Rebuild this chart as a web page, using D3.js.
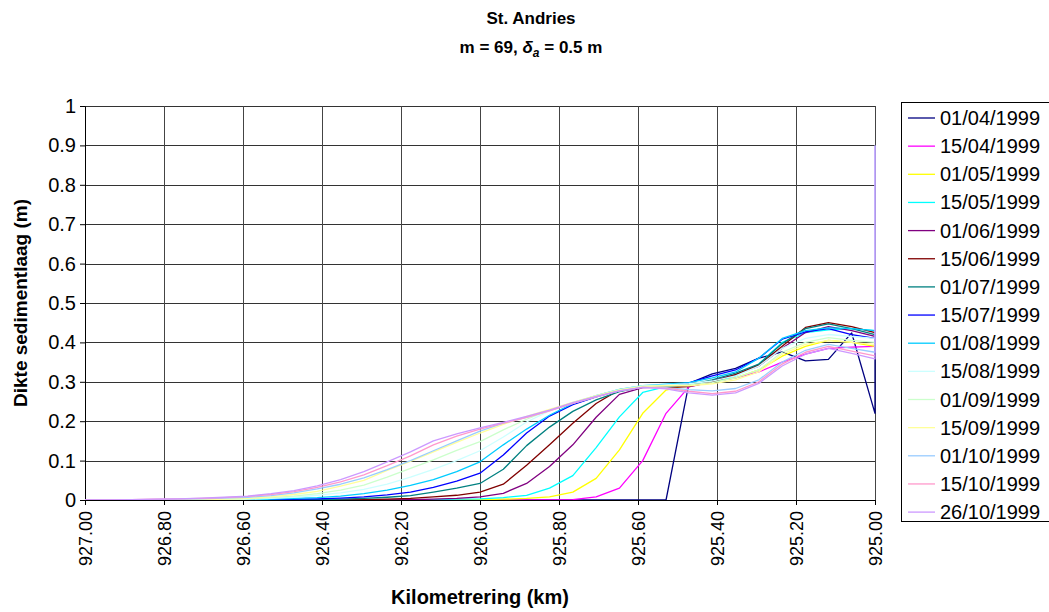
<!DOCTYPE html>
<html>
<head>
<meta charset="utf-8">
<script src="https://cdn.jsdelivr.net/npm/d3@7"></script>
<style>
  body { margin: 0; background: #fff; }
  text { font-family: "Liberation Sans", Arial, sans-serif; }
</style>
</head>
<body>
<div id="chart-area"></div>
<script>
// km positions (last point repeated at 925.00)
var km = [927.000, 926.941, 926.882, 926.824, 926.765, 926.706, 926.647, 926.588, 926.529,
  926.471, 926.412, 926.353, 926.294, 926.235, 926.176, 926.118, 926.059, 926.000,
  925.941, 925.882, 925.824, 925.765, 925.706, 925.647, 925.588, 925.529, 925.471,
  925.412, 925.353, 925.294, 925.235, 925.176, 925.118, 925.059, 925.000, 925.000];

var dates = ["01/04/1999", "15/04/1999", "01/05/1999", "15/05/1999", "01/06/1999",
  "15/06/1999", "01/07/1999", "15/07/1999", "01/08/1999", "15/08/1999",
  "01/09/1999", "15/09/1999", "01/10/1999", "15/10/1999", "26/10/1999"];

var colors = ["#000080", "#ff00ff", "#ffff00", "#00ffff", "#800080",
  "#800000", "#008080", "#0000ff", "#00ccff", "#ccffff",
  "#ccffcc", "#ffff99", "#99ccff", "#ff99cc", "#cc99ff"];

var d0104 = [0, 0, 0, 0, 0, 0, 0, 0, 0, 0, 0, 0, 0, 0, 0, 0, 0, 0, 0, 0, 0, 0, 0, 0, 0, 0,
  0.296, 0.32, 0.334, 0.36, 0.376, 0.353, 0.357, 0.424, 0.22, 0.42];
var d1504 = [0, 0, 0, 0, 0, 0, 0, 0, 0, 0, 0, 0, 0, 0, 0, 0, 0, 0, 0, 0, 0,
  0.001, 0.008, 0.03, 0.1, 0.22, 0.287, 0.3, 0.31, 0.325, 0.35, 0.37, 0.385, 0.388, 0.39, 0.39];
var d0105 = [0, 0, 0, 0, 0, 0, 0, 0, 0, 0, 0, 0, 0, 0, 0, 0, 0,
  0.001, 0.002, 0.004, 0.008, 0.02, 0.055, 0.127, 0.22, 0.279, 0.293, 0.3, 0.31, 0.33, 0.365,
  0.39, 0.405, 0.4, 0.39, 0.39];
var d1505 = [0, 0, 0, 0, 0, 0, 0, 0, 0, 0, 0, 0, 0, 0, 0,
  0.001, 0.002, 0.003, 0.006, 0.012, 0.03, 0.062, 0.133, 0.211, 0.273, 0.288, 0.29, 0.3, 0.315,
  0.345, 0.4, 0.425, 0.432, 0.435, 0.43, 0.43];
var d0106 = [0, 0, 0, 0, 0, 0, 0, 0, 0, 0, 0, 0, 0, 0,
  0.001, 0.002, 0.004, 0.008, 0.017, 0.042, 0.085, 0.14, 0.21, 0.268, 0.285, 0.287, 0.29, 0.303,
  0.318, 0.34, 0.385, 0.425, 0.44, 0.43, 0.415, 0.415];
var d1506 = [0, 0, 0, 0, 0, 0, 0, 0, 0, 0, 0, 0,
  0.001, 0.002, 0.004, 0.008, 0.012, 0.02, 0.04, 0.088, 0.14, 0.195, 0.245, 0.28, 0.288, 0.285,
  0.288, 0.3, 0.318, 0.343, 0.39, 0.438, 0.45, 0.44, 0.425, 0.425];
var d0107 = [0, 0, 0, 0, 0, 0, 0, 0, 0,
  0.001, 0.001, 0.002, 0.004, 0.007, 0.011, 0.02, 0.03, 0.042, 0.078, 0.138, 0.185, 0.225, 0.254,
  0.275, 0.287, 0.288, 0.292, 0.305, 0.322, 0.345, 0.397, 0.435, 0.447, 0.435, 0.42, 0.42];
var d1507 = [0, 0, 0, 0, 0, 0, 0, 0,
  0.001, 0.002, 0.003, 0.005, 0.008, 0.013, 0.02, 0.032, 0.048, 0.068, 0.114, 0.17, 0.213, 0.242,
  0.262, 0.279, 0.288, 0.29, 0.297, 0.315, 0.33, 0.36, 0.408, 0.427, 0.435, 0.42, 0.41, 0.41];
var d0108 = [0, 0, 0, 0, 0, 0, 0, 0,
  0.002, 0.004, 0.006, 0.01, 0.016, 0.025, 0.037, 0.052, 0.072, 0.097, 0.14, 0.18, 0.215, 0.245,
  0.265, 0.281, 0.29, 0.294, 0.298, 0.31, 0.325, 0.36, 0.41, 0.43, 0.437, 0.435, 0.43, 0.43];
var d1508 = [0, 0, 0, 0, 0, 0, 0,
  0.002, 0.004, 0.007, 0.012, 0.018, 0.027, 0.04, 0.058, 0.078, 0.1, 0.125, 0.16, 0.198, 0.226,
  0.248, 0.265, 0.28, 0.29, 0.292, 0.295, 0.302, 0.315, 0.34, 0.385, 0.41, 0.42, 0.415, 0.41, 0.41];
var d0109 = [0, 0, 0, 0, 0, 0,
  0.001, 0.003, 0.006, 0.01, 0.016, 0.025, 0.038, 0.058, 0.08, 0.102, 0.126, 0.148, 0.178, 0.205,
  0.228, 0.248, 0.265, 0.28, 0.289, 0.29, 0.292, 0.298, 0.31, 0.33, 0.375, 0.4, 0.412, 0.405, 0.4, 0.4];
var d1509 = [0, 0, 0, 0, 0,
  0.001, 0.002, 0.004, 0.008, 0.014, 0.022, 0.035, 0.05, 0.075, 0.098, 0.122, 0.146, 0.17, 0.192,
  0.212, 0.23, 0.248, 0.264, 0.279, 0.288, 0.29, 0.29, 0.295, 0.305, 0.325, 0.37, 0.395, 0.405,
  0.4, 0.395, 0.395];
var d0110 = [0, 0, 0,
  0.001, 0.002, 0.003, 0.005, 0.007, 0.011, 0.018, 0.028, 0.04, 0.056, 0.077, 0.1, 0.125, 0.15,
  0.175, 0.195, 0.21, 0.227, 0.245, 0.262, 0.277, 0.286, 0.285, 0.28, 0.277, 0.283, 0.305, 0.35,
  0.38, 0.395, 0.385, 0.375, 0.9];
var d1510 = [0, 0,
  0.001, 0.002, 0.003, 0.004, 0.006, 0.009, 0.014, 0.021, 0.032, 0.046, 0.064, 0.087, 0.112, 0.14,
  0.162, 0.18, 0.195, 0.21, 0.226, 0.245, 0.262, 0.277, 0.286, 0.284, 0.276, 0.27, 0.276, 0.3,
  0.345, 0.375, 0.39, 0.378, 0.366, 0.366];
var d2610 = [0, 0,
  0.001, 0.002, 0.003, 0.005, 0.007, 0.01, 0.016, 0.024, 0.036, 0.052, 0.072, 0.097, 0.122, 0.15,
  0.168, 0.183, 0.197, 0.212, 0.228, 0.247, 0.263, 0.277, 0.286, 0.282, 0.272, 0.266, 0.272, 0.296,
  0.34, 0.37, 0.385, 0.372, 0.358, 0.9];

var xTicks = [927.0, 926.8, 926.6, 926.4, 926.2, 926.0, 925.8, 925.6, 925.4, 925.2, 925.0];
var yTicks = [0, 0.1, 0.2, 0.3, 0.4, 0.5, 0.6, 0.7, 0.8, 0.9, 1];

var seriesValues = [d0104, d1504, d0105, d1505, d0106, d1506, d0107, d1507,
  d0108, d1508, d0109, d1509, d0110, d1510, d2610];

var series = dates.map(function (d, i) {
  return {
    date: d,
    color: colors[i],
    values: km.map(function (k, j) { return { km: k, v: seriesValues[i][j] }; })
  };
});

var margin = { left: 85, top: 106, right: 174, bottom: 112 };
var width = 1049 - margin.left - margin.right;
var height = 612 - margin.top - margin.bottom;

var svg = d3.select("#chart-area")
  .append("svg")
  .attr("width", 1049)
  .attr("height", 612);

var g = svg.append("g")
  .attr("transform", "translate(" + margin.left + "," + margin.top + ")");

/* Scales */
var xScale = d3.scaleLinear().domain([927, 925]).range([0, width]);
var yScale = d3.scaleLinear().domain([0, 1]).range([height, 0]);

/* Grid */
g.append("g")
  .attr("class", "grid-y")
  .selectAll("line")
  .data(yTicks).enter()
  .append("line")
  .attr("x1", 0)
  .attr("x2", width)
  .attr("y1", d => Math.round(yScale(d)) + 0.5)
  .attr("y2", d => Math.round(yScale(d)) + 0.5)
  .style("stroke", "#333")
  .style("stroke-width", 1);

g.append("g")
  .attr("class", "grid-x")
  .selectAll("line")
  .data(xTicks).enter()
  .append("line")
  .attr("x1", d => Math.round(xScale(d)) + 0.5)
  .attr("x2", d => Math.round(xScale(d)) + 0.5)
  .attr("y1", 0)
  .attr("y2", height)
  .style("stroke", "#444")
  .style("stroke-width", 1);

/* Axes */
var xAxis = d3.axisBottom(xScale)
  .tickValues(xTicks)
  .tickSize(5)
  .tickFormat(d3.format(".2f"));

var yAxis = d3.axisLeft(yScale)
  .tickValues(yTicks)
  .tickSize(5)
  .tickFormat(d => d);

var xAxisGroup = g.append("g")
  .attr("class", "x-axis")
  .attr("transform", "translate(0," + height + ")")
  .call(xAxis);

xAxisGroup.selectAll("text")
  .attr("transform", "rotate(-90)")
  .attr("x", -11)
  .attr("y", 0)
  .attr("dy", "0.35em")
  .attr("text-anchor", "end")
  .style("font-size", "18px");

var yAxisGroup = g.append("g")
  .attr("class", "y-axis")
  .call(yAxis);

yAxisGroup.selectAll("text")
  .attr("x", -9)
  .style("font-size", "20px");

g.selectAll(".x-axis text, .y-axis text")
  .style("font-family", "'Liberation Sans', Arial, sans-serif")
  .style("fill", "#000");

g.selectAll(".domain, .tick line").style("stroke", "#000");

/* Lines */
var line = d3.line()
  .x(d => xScale(d.km))
  .y(d => yScale(d.v));

g.append("defs").append("clipPath")
  .attr("id", "clip")
  .append("rect")
  .attr("x", -1).attr("y", 0)
  .attr("width", width + 2).attr("height", height);

g.append("g")
  .attr("class", "lines")
  .attr("clip-path", "url(#clip)")
  .selectAll("path")
  .data(series).enter()
  .append("path")
  .attr("d", d => line(d.values))
  .style("fill", "none")
  .style("stroke", d => d.color)
  .style("stroke-width", 1.3)
  .style("stroke-linejoin", "round");

/* Titles */
svg.append("text")
  .attr("x", 531)
  .attr("y", 24)
  .attr("text-anchor", "middle")
  .style("font-size", "17px")
  .style("font-weight", "bold")
  .text("St. Andries");

var sub = svg.append("text")
  .attr("x", 531)
  .attr("y", 53)
  .attr("text-anchor", "middle")
  .style("font-size", "17px")
  .style("font-weight", "bold");
sub.append("tspan").text("m = 69, ");
sub.append("tspan").style("font-style", "italic").text("δ");
sub.append("tspan").style("font-style", "italic").style("font-size", "12px")
  .attr("dy", 4).text("a");
sub.append("tspan").attr("dy", -4).text(" = 0.5 m");

svg.append("text")
  .attr("x", margin.left + width / 2)
  .attr("y", 604)
  .attr("text-anchor", "middle")
  .style("font-size", "20px")
  .style("font-weight", "bold")
  .text("Kilometrering (km)");

svg.append("text")
  .attr("transform", "translate(27," + (margin.top + height / 2) + ") rotate(-90)")
  .attr("text-anchor", "middle")
  .style("font-size", "19px")
  .style("font-weight", "bold")
  .text("Dikte sedimentlaag (m)");

/* Legend */
var legend = svg.append("g")
  .attr("class", "legend")
  .attr("transform", "translate(901,102)");

legend.append("rect")
  .attr("x", 0.5).attr("y", 0.5)
  .attr("width", 160).attr("height", 419)
  .style("fill", "#fff")
  .style("stroke", "#000");

var items = legend.selectAll(".item")
  .data(series).enter()
  .append("g")
  .attr("class", "item")
  .attr("transform", (d, i) => "translate(0," + (16 + i * 28.15) + ")");

items.append("line")
  .attr("x1", 7).attr("x2", 34)
  .style("stroke", d => d.color)
  .style("stroke-width", 1.3);

items.append("text")
  .attr("x", 39)
  .attr("dy", "0.35em")
  .style("font-size", "20px")
  .text(d => d.date);
</script>
</body>
</html>
